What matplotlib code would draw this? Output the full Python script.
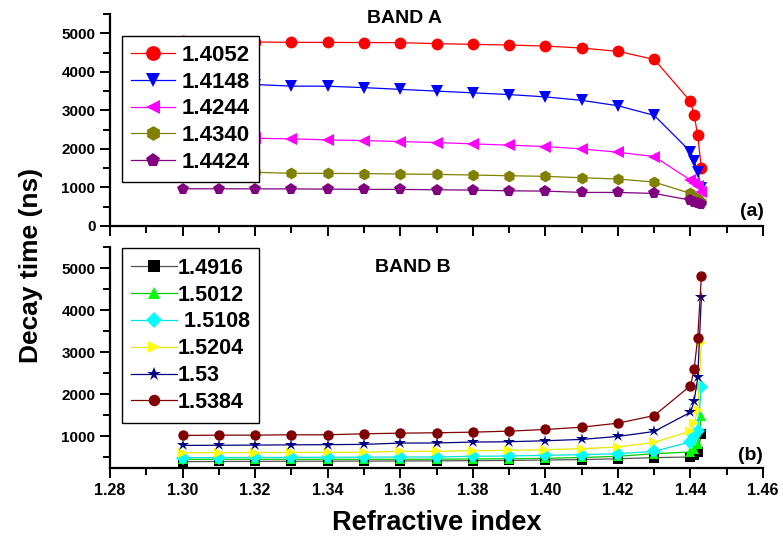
import numpy as np
import matplotlib
matplotlib.use('Agg')
import matplotlib.pyplot as plt
from matplotlib.ticker import MultipleLocator

plt.rcParams['font.family'] = ['Liberation Sans', 'DejaVu Sans']
plt.rcParams['font.weight'] = 'bold'

# refractive index of the sensing layer (x axis)
x_ri = [1.30, 1.31, 1.32, 1.33, 1.34, 1.35, 1.36, 1.37, 1.38, 1.39,
        1.40, 1.41, 1.42, 1.43, 1.440, 1.441, 1.442, 1.443]

# band A decay times (ns)
labels_a = ['1.4052', '1.4148', '1.4244', '1.4340', '1.4424']
a_14052 = [4790, 4780, 4773, 4766, 4762, 4760, 4757, 4731, 4713, 4695,
           4669, 4617, 4531, 4322, 3234, 2879, 2358, 1497]
a_14148 = [3720, 3700, 3670, 3630, 3626, 3590, 3545, 3500, 3455, 3410,
           3350, 3260, 3120, 2870, 1930, 1695, 1408, 975]
a_14244 = [2300, 2290, 2275, 2261, 2235, 2217, 2191, 2165, 2131, 2097,
           2061, 2000, 1914, 1800, 1192, 1122, 1035, 887]
a_14340 = [1420, 1410, 1393, 1367, 1365, 1360, 1348, 1340, 1322, 1304,
           1288, 1252, 1218, 1140, 845, 756, 689, 626]
a_14424 = [965, 965, 963, 962, 957, 950, 949, 940, 931, 913,
           905, 871, 871, 845, 670, 626, 584, 558]

# band B decay times (ns)
labels_b = ['1.4916', '1.5012', ' 1.5108', '1.5204', '1.53', '1.5384']
b_14916 = [402, 405, 408, 410, 412, 415, 417, 420, 425, 430,
           440, 450, 470, 496, 512, 560, 630, 1063]
b_15012 = [457, 457, 457, 457, 457, 457, 457, 460, 465, 470,
           480, 500, 528, 590, 630, 700, 827, 1480]
b_15108 = [496, 498, 500, 502, 505, 508, 512, 512, 528, 535,
           551, 567, 590, 646, 870, 1000, 1140, 2180]
b_15204 = [614, 615, 617, 620, 622, 625, 646, 646, 662, 669,
           685, 709, 748, 858, 1126, 1315, 1630, 3228]
b_1530 = [787, 790, 795, 800, 805, 812, 842, 845, 866, 874,
          898, 929, 1000, 1118, 1575, 1835, 2402, 4307]
b_15384 = [1024, 1031, 1031, 1039, 1039, 1063, 1078, 1087, 1102, 1126,
           1165, 1220, 1315, 1496, 2205, 2591, 3346, 4803]

fig = plt.figure(figsize=(7.83, 5.43), dpi=100)
ax1 = fig.add_axes([0.1405, 0.5838, 0.834, 0.3904])
ax2 = fig.add_axes([0.1405, 0.1381, 0.834, 0.4070])

# top panel
style_a = [('#ff0000', 'o'), ('#0000ff', 'v'), ('#ff00ff', '<'),
           ('#808000', 'h'), ('#800080', 'p')]
for ys, lab, (c, m) in zip([a_14052, a_14148, a_14244, a_14340, a_14424], labels_a, style_a):
    ax1.plot(x_ri, ys, color=c, marker=m, markersize=8.5, lw=0.9,
             markeredgewidth=0, label=lab)

# bottom panel
style_b = [('#000000', 's', '#555555'), ('#00ff00', '^', '#00cc00'),
           ('#00ffff', 'D', '#00e0e0'), ('#ffff00', '>', '#e8e800'),
           ('#000080', '*', '#000080'), ('#800000', 'o', '#800000')]
for ys, lab, (c, m, lc) in zip([b_14916, b_15012, b_15108, b_15204, b_1530, b_15384], labels_b, style_b):
    ax2.plot(x_ri, ys, color=lc, marker=m, markerfacecolor=c,
             markeredgecolor=c, markersize=7.5 if m != '*' else 9,
             lw=0.9, markeredgewidth=0, label=lab)

for ax in (ax1, ax2):
    ax.set_xlim(1.28, 1.46)
    ax.xaxis.set_major_locator(MultipleLocator(0.02))
    ax.xaxis.set_minor_locator(MultipleLocator(0.01))
    ax.yaxis.set_major_locator(MultipleLocator(1000))
    ax.yaxis.set_minor_locator(MultipleLocator(500))
    ax.spines['top'].set_visible(False)
    ax.spines['right'].set_visible(False)
    for s in ('left', 'bottom'):
        ax.spines[s].set_linewidth(1.6)
    ax.tick_params(which='major', length=7, width=1.4, labelsize=11)
    ax.tick_params(which='minor', length=5, width=1.4)
    for t in ax.get_yticklabels() + ax.get_xticklabels():
        t.set_fontweight('bold')

ax1.set_ylim(0, 5500)
ax2.set_ylim(250, 5500)
ax1.tick_params(axis='x', labelbottom=False)
ax1.set_yticks([0, 1000, 2000, 3000, 4000, 5000])
ax2.set_yticks([1000, 2000, 3000, 4000, 5000])
ax2.set_xticks(np.round(np.arange(1.28, 1.4601, 0.02), 2))
ax2.set_xticklabels(['%.2f' % v for v in np.arange(1.28, 1.4601, 0.02)],
                    fontweight='bold', fontsize=11.5)

leg1 = ax1.legend(loc='upper left', bbox_to_anchor=(0.018, 0.897), borderaxespad=0,
                  prop={'weight': 'bold', 'size': 16}, frameon=True, fancybox=False,
                  framealpha=1, handlelength=2.0, labelspacing=0.26, handletextpad=0.3,
                  borderpad=0.4, edgecolor='black', markerscale=1.25)
leg1.get_frame().set_linewidth(1.0)
leg2 = ax2.legend(loc='upper left', bbox_to_anchor=(0.018, 0.995), borderaxespad=0,
                  prop={'weight': 'bold', 'size': 15.5}, frameon=True, fancybox=False,
                  framealpha=1, handlelength=2.1, labelspacing=0.27, handletextpad=0.05,
                  borderpad=0.45, edgecolor='black', markerscale=1.1)
leg2.get_frame().set_linewidth(1.0)

fig.text(0.517, 0.966, 'BAND A', fontsize=14, fontweight='bold', ha='center', va='center')
fig.text(0.527, 0.508, 'BAND B', fontsize=14, fontweight='bold', ha='center', va='center')
fig.text(0.960, 0.610, '(a)', fontsize=14, fontweight='bold', ha='center', va='center')
fig.text(0.958, 0.162, '(b)', fontsize=14, fontweight='bold', ha='center', va='center')
fig.text(0.040, 0.512, 'Decay time (ns)', fontsize=19, fontweight='bold',
         rotation=90, ha='center', va='center')
fig.text(0.558, 0.037, 'Refractive index', fontsize=19.5, fontweight='bold',
         ha='center', va='center')

fig.savefig('out.png', dpi=100)
